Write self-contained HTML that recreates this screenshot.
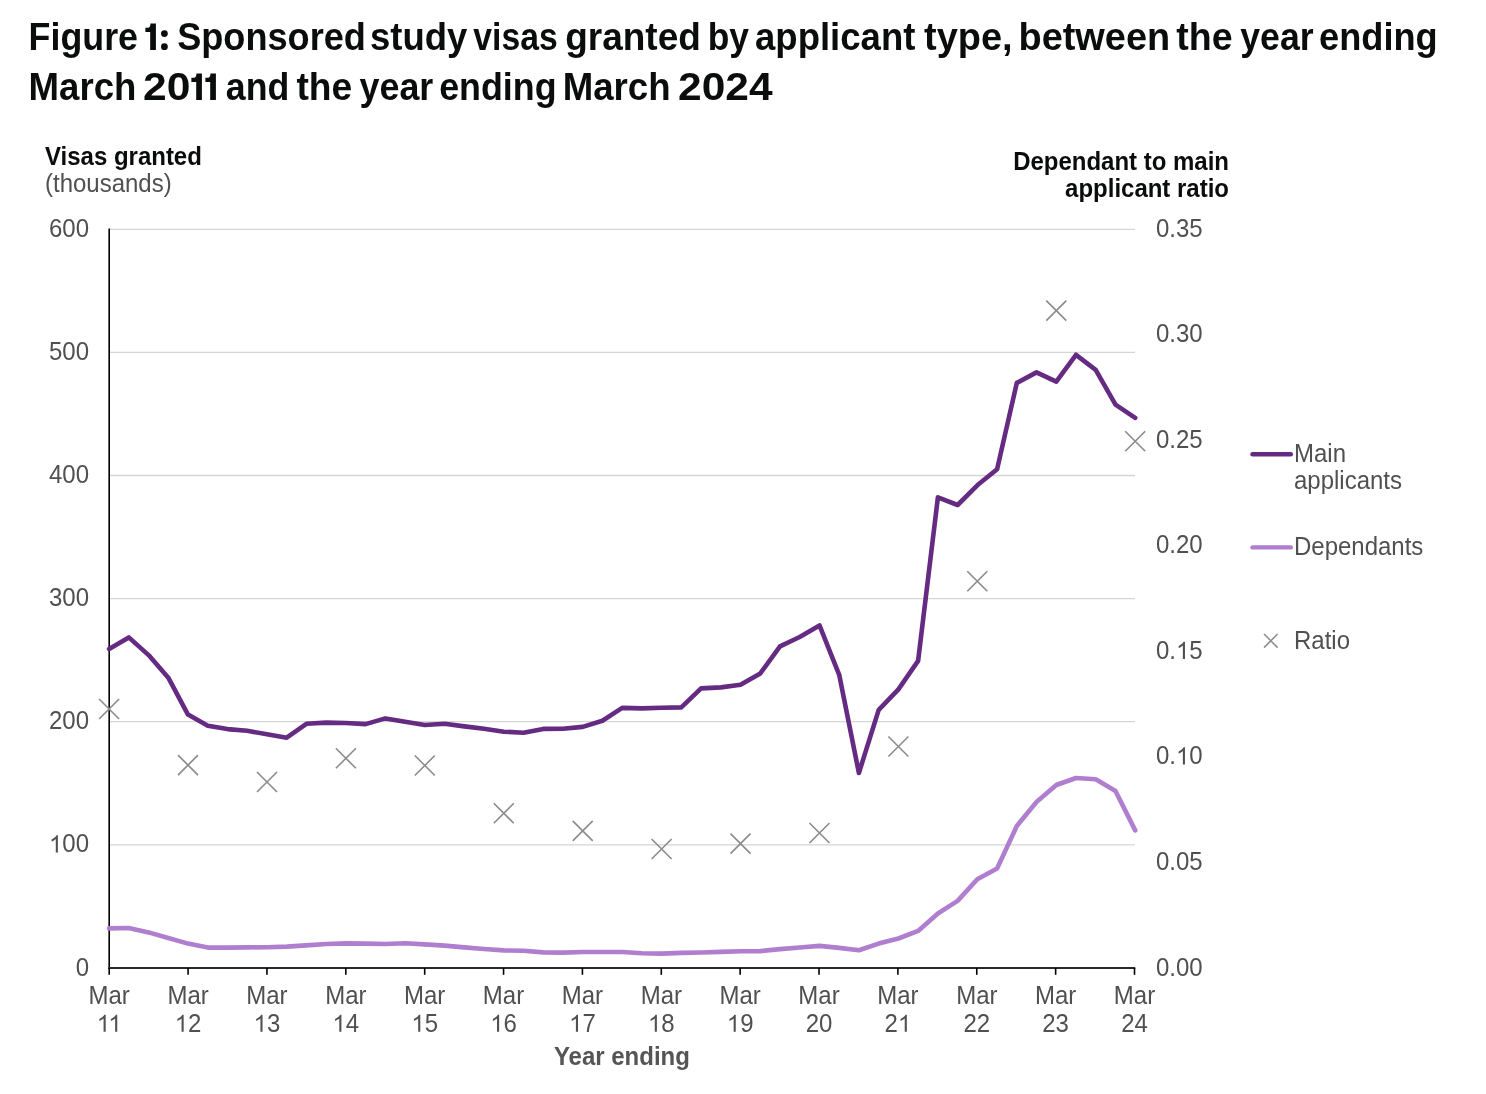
<!DOCTYPE html>
<html><head><meta charset="utf-8"><style>
html,body{margin:0;padding:0;background:#fff;}
body{width:1486px;height:1094px;overflow:hidden;position:relative;}
svg{position:absolute;left:0;top:0;will-change:transform;}
.t{font-family:"Liberation Sans",sans-serif;font-size:24px;fill:#505050;}
.b{font-family:"Liberation Sans",sans-serif;font-size:24px;font-weight:bold;}
.h{font-family:"Liberation Sans",sans-serif;font-size:38px;font-weight:bold;fill:#0b0c0c;}
</style></head><body>
<svg width="1486" height="1094" viewBox="0 0 1486 1094">
<defs><path id="one" fill="#505050" d="M763 0H583V-1098Q518 -1038 412.5 -979T223 -890V-1057Q373 -1124 485.5 -1221T645 -1409H763Z"/></defs>
<line x1="110" y1="844.80" x2="1135" y2="844.80" stroke="#d5d5d5" stroke-width="1.3"/>
<line x1="110" y1="721.70" x2="1135" y2="721.70" stroke="#d5d5d5" stroke-width="1.3"/>
<line x1="110" y1="598.60" x2="1135" y2="598.60" stroke="#d5d5d5" stroke-width="1.3"/>
<line x1="110" y1="475.50" x2="1135" y2="475.50" stroke="#d5d5d5" stroke-width="1.3"/>
<line x1="110" y1="352.40" x2="1135" y2="352.40" stroke="#d5d5d5" stroke-width="1.3"/>
<line x1="110" y1="229.30" x2="1135" y2="229.30" stroke="#d5d5d5" stroke-width="1.3"/>
<text transform="translate(75.65,975.60) scale(1,1.04)" class="t">0</text>
<use href="#one" transform="translate(48.96,852.43) scale(0.011719,0.012188)"/>
<text transform="translate(62.30,852.43) scale(1,1.04)" class="t">00</text>
<text transform="translate(48.96,729.27) scale(1,1.04)" class="t">200</text>
<text transform="translate(48.96,606.10) scale(1,1.04)" class="t">300</text>
<text transform="translate(48.96,482.93) scale(1,1.04)" class="t">400</text>
<text transform="translate(48.96,359.77) scale(1,1.04)" class="t">500</text>
<text transform="translate(48.96,236.60) scale(1,1.04)" class="t">600</text>
<text transform="translate(1156.00,975.60) scale(1,1.04)" class="t">0.00</text>
<text transform="translate(1156.00,870.03) scale(1,1.04)" class="t">0.05</text>
<text transform="translate(1156.00,764.46) scale(1,1.04)" class="t">0.</text>
<use href="#one" transform="translate(1176.02,764.46) scale(0.011719,0.012188)"/>
<text transform="translate(1189.36,764.46) scale(1,1.04)" class="t">0</text>
<text transform="translate(1156.00,658.89) scale(1,1.04)" class="t">0.</text>
<use href="#one" transform="translate(1176.02,658.89) scale(0.011719,0.012188)"/>
<text transform="translate(1189.36,658.89) scale(1,1.04)" class="t">5</text>
<text transform="translate(1156.00,553.31) scale(1,1.04)" class="t">0.20</text>
<text transform="translate(1156.00,447.74) scale(1,1.04)" class="t">0.25</text>
<text transform="translate(1156.00,342.17) scale(1,1.04)" class="t">0.30</text>
<text transform="translate(1156.00,236.60) scale(1,1.04)" class="t">0.35</text>
<line x1="109.2" y1="228.4" x2="109.2" y2="969" stroke="#000" stroke-width="1.6"/>
<line x1="108.4" y1="968" x2="1135.3" y2="968" stroke="#2a2a2a" stroke-width="2"/>
<line x1="109.20" y1="968" x2="109.20" y2="974.8" stroke="#000" stroke-width="1.6"/>
<text transform="translate(109.2,1003.8) scale(1,1.04)" text-anchor="middle" class="t">Mar</text>
<use href="#one" transform="translate(96.74,1031.80) scale(0.011719,0.012188)"/>
<use href="#one" transform="translate(108.31,1031.80) scale(0.011719,0.012188)"/>
<line x1="188.07" y1="968" x2="188.07" y2="974.8" stroke="#000" stroke-width="1.6"/>
<text transform="translate(188.1,1003.8) scale(1,1.04)" text-anchor="middle" class="t">Mar</text>
<use href="#one" transform="translate(174.72,1031.80) scale(0.011719,0.012188)"/>
<text transform="translate(188.07,1031.80) scale(1,1.04)" class="t">2</text>
<line x1="266.94" y1="968" x2="266.94" y2="974.8" stroke="#000" stroke-width="1.6"/>
<text transform="translate(266.9,1003.8) scale(1,1.04)" text-anchor="middle" class="t">Mar</text>
<use href="#one" transform="translate(253.59,1031.80) scale(0.011719,0.012188)"/>
<text transform="translate(266.94,1031.80) scale(1,1.04)" class="t">3</text>
<line x1="345.81" y1="968" x2="345.81" y2="974.8" stroke="#000" stroke-width="1.6"/>
<text transform="translate(345.8,1003.8) scale(1,1.04)" text-anchor="middle" class="t">Mar</text>
<use href="#one" transform="translate(332.46,1031.80) scale(0.011719,0.012188)"/>
<text transform="translate(345.81,1031.80) scale(1,1.04)" class="t">4</text>
<line x1="424.68" y1="968" x2="424.68" y2="974.8" stroke="#000" stroke-width="1.6"/>
<text transform="translate(424.7,1003.8) scale(1,1.04)" text-anchor="middle" class="t">Mar</text>
<use href="#one" transform="translate(411.33,1031.80) scale(0.011719,0.012188)"/>
<text transform="translate(424.68,1031.80) scale(1,1.04)" class="t">5</text>
<line x1="503.55" y1="968" x2="503.55" y2="974.8" stroke="#000" stroke-width="1.6"/>
<text transform="translate(503.5,1003.8) scale(1,1.04)" text-anchor="middle" class="t">Mar</text>
<use href="#one" transform="translate(490.20,1031.80) scale(0.011719,0.012188)"/>
<text transform="translate(503.55,1031.80) scale(1,1.04)" class="t">6</text>
<line x1="582.42" y1="968" x2="582.42" y2="974.8" stroke="#000" stroke-width="1.6"/>
<text transform="translate(582.4,1003.8) scale(1,1.04)" text-anchor="middle" class="t">Mar</text>
<use href="#one" transform="translate(569.07,1031.80) scale(0.011719,0.012188)"/>
<text transform="translate(582.42,1031.80) scale(1,1.04)" class="t">7</text>
<line x1="661.28" y1="968" x2="661.28" y2="974.8" stroke="#000" stroke-width="1.6"/>
<text transform="translate(661.3,1003.8) scale(1,1.04)" text-anchor="middle" class="t">Mar</text>
<use href="#one" transform="translate(647.94,1031.80) scale(0.011719,0.012188)"/>
<text transform="translate(661.28,1031.80) scale(1,1.04)" class="t">8</text>
<line x1="740.15" y1="968" x2="740.15" y2="974.8" stroke="#000" stroke-width="1.6"/>
<text transform="translate(740.2,1003.8) scale(1,1.04)" text-anchor="middle" class="t">Mar</text>
<use href="#one" transform="translate(726.81,1031.80) scale(0.011719,0.012188)"/>
<text transform="translate(740.15,1031.80) scale(1,1.04)" class="t">9</text>
<line x1="819.02" y1="968" x2="819.02" y2="974.8" stroke="#000" stroke-width="1.6"/>
<text transform="translate(819.0,1003.8) scale(1,1.04)" text-anchor="middle" class="t">Mar</text>
<text transform="translate(805.68,1031.80) scale(1,1.04)" class="t">20</text>
<line x1="897.89" y1="968" x2="897.89" y2="974.8" stroke="#000" stroke-width="1.6"/>
<text transform="translate(897.9,1003.8) scale(1,1.04)" text-anchor="middle" class="t">Mar</text>
<text transform="translate(884.54,1031.80) scale(1,1.04)" class="t">2</text>
<use href="#one" transform="translate(897.89,1031.80) scale(0.011719,0.012188)"/>
<line x1="976.76" y1="968" x2="976.76" y2="974.8" stroke="#000" stroke-width="1.6"/>
<text transform="translate(976.8,1003.8) scale(1,1.04)" text-anchor="middle" class="t">Mar</text>
<text transform="translate(963.41,1031.80) scale(1,1.04)" class="t">22</text>
<line x1="1055.63" y1="968" x2="1055.63" y2="974.8" stroke="#000" stroke-width="1.6"/>
<text transform="translate(1055.6,1003.8) scale(1,1.04)" text-anchor="middle" class="t">Mar</text>
<text transform="translate(1042.28,1031.80) scale(1,1.04)" class="t">23</text>
<line x1="1134.50" y1="968" x2="1134.50" y2="974.8" stroke="#000" stroke-width="1.6"/>
<text transform="translate(1134.5,1003.8) scale(1,1.04)" text-anchor="middle" class="t">Mar</text>
<text transform="translate(1121.15,1031.80) scale(1,1.04)" class="t">24</text>
<polyline points="109.1,928.4 128.8,928 148.6,932.4 168.3,938 188.0,943.6 207.8,947.6 227.5,947.6 247.2,947.4 267.0,947.2 286.7,946.6 306.4,945.4 326.2,944 345.9,943.4 365.6,943.6 385.4,944 405.1,943.2 424.8,944.4 444.6,945.6 464.3,947.4 484.0,949 503.8,950.4 523.5,950.8 543.2,952.4 563.0,952.6 582.7,952 602.4,952 622.2,952 641.9,953.2 661.6,953.6 681.3,952.9 701.1,952.5 720.8,951.9 740.5,951.3 760.3,951.1 780.0,949.1 799.7,947.5 819.5,945.9 839.2,947.9 858.9,950.2 878.7,943.6 898.4,938.5 918.1,930.9 937.9,913.5 957.6,900.9 977.3,879.3 997.1,868.5 1016.8,826 1036.5,802 1056.3,785 1076.0,778 1095.7,779.2 1115.5,791 1135.2,830.4" fill="none" stroke="#b07ecf" stroke-width="4.6" stroke-linejoin="round" stroke-linecap="round"/>
<polyline points="109.1,648.9 128.8,637.4 148.6,655.1 168.3,677.7 188.0,714.6 207.8,725.7 227.5,729.1 247.2,730.8 267.0,734.2 286.7,737.7 306.4,723.8 326.2,722.6 345.9,723.0 365.6,724.1 385.4,718.4 405.1,721.7 424.8,725.0 444.6,723.7 464.3,726.4 484.0,728.7 503.8,731.7 523.5,732.7 543.2,728.9 563.0,728.7 582.7,726.9 602.4,720.7 622.2,707.9 641.9,708.4 661.6,707.7 681.3,707.4 701.1,688.4 720.8,687.4 740.5,684.8 760.3,673.4 780.0,646.4 799.7,637.0 819.5,625.4 839.2,674.8 858.9,773.0 878.7,709.9 898.4,689.4 918.1,660.9 937.9,497.4 957.6,505.0 977.3,485.3 997.1,469.3 1016.8,382.9 1036.5,372.4 1056.3,381.7 1076.0,354.8 1095.7,369.9 1115.5,404.7 1135.2,417.9" fill="none" stroke="#652a82" stroke-width="4.6" stroke-linejoin="round" stroke-linecap="round"/>
<path d="M99.1,699.0L119.1,719.0M99.1,719.0L119.1,699.0" stroke="#898b8e" stroke-width="1.6"/>
<path d="M178.0,755.1L198.0,775.1M178.0,775.1L198.0,755.1" stroke="#898b8e" stroke-width="1.6"/>
<path d="M257.0,772.0L277.0,792.0M257.0,792.0L277.0,772.0" stroke="#898b8e" stroke-width="1.6"/>
<path d="M335.9,748.3L355.9,768.3M335.9,768.3L355.9,748.3" stroke="#898b8e" stroke-width="1.6"/>
<path d="M414.8,755.5L434.8,775.5M414.8,775.5L434.8,755.5" stroke="#898b8e" stroke-width="1.6"/>
<path d="M493.8,803.3L513.8,823.3M493.8,823.3L513.8,803.3" stroke="#898b8e" stroke-width="1.6"/>
<path d="M572.7,820.9L592.7,840.9M572.7,840.9L592.7,820.9" stroke="#898b8e" stroke-width="1.6"/>
<path d="M651.6,839.0L671.6,859.0M651.6,859.0L671.6,839.0" stroke="#898b8e" stroke-width="1.6"/>
<path d="M730.5,833.6L750.5,853.6M730.5,853.6L750.5,833.6" stroke="#898b8e" stroke-width="1.6"/>
<path d="M809.5,823.0L829.5,843.0M809.5,843.0L829.5,823.0" stroke="#898b8e" stroke-width="1.6"/>
<path d="M888.4,736.5L908.4,756.5M888.4,756.5L908.4,736.5" stroke="#898b8e" stroke-width="1.6"/>
<path d="M967.3,571.3L987.3,591.3M967.3,591.3L987.3,571.3" stroke="#898b8e" stroke-width="1.6"/>
<path d="M1046.3,300.6L1066.3,320.6M1046.3,320.6L1066.3,300.6" stroke="#898b8e" stroke-width="1.6"/>
<path d="M1125.2,431.3L1145.2,451.3M1125.2,451.3L1145.2,431.3" stroke="#898b8e" stroke-width="1.6"/>
<text transform="translate(45,164.9) scale(1,1.04)" class="b" fill="#0b0c0c">Visas granted</text>
<text transform="translate(45,191.8) scale(1,1.04)" class="t">(thousands)</text>
<text transform="translate(1229,169.9) scale(1,1.04)" text-anchor="end" class="b" fill="#0b0c0c">Dependant to main</text>
<text transform="translate(1229,197.0) scale(1,1.04)" text-anchor="end" class="b" fill="#0b0c0c">applicant ratio</text>
<text transform="translate(621.9,1064.5) scale(1,1.04)" text-anchor="middle" class="b" fill="#555">Year ending</text>
<line x1="1252.5" y1="454.3" x2="1290.8" y2="454.3" stroke="#652a82" stroke-width="4.4" stroke-linecap="round"/>
<text transform="translate(1294,462.3) scale(1,1.04)" class="t">Main</text>
<text transform="translate(1294,488.9) scale(1,1.04)" class="t">applicants</text>
<line x1="1252.5" y1="547.4" x2="1290.8" y2="547.4" stroke="#b07ecf" stroke-width="4.4" stroke-linecap="round"/>
<text transform="translate(1294,555) scale(1,1.04)" class="t">Dependants</text>
<path d="M1264,634L1277.6,647.6M1264,647.6L1277.6,634" stroke="#898b8e" stroke-width="1.5"/>
<text transform="translate(1294,648.8) scale(1,1.04)" class="t">Ratio</text>
<text class="h" transform="translate(28.62,49.9) scale(0.9425,1)">Figure</text>
<text class="h" transform="translate(177.15,49.9) scale(0.9513,1)">Sponsored</text>
<text class="h" transform="translate(370.08,49.9) scale(0.9596,1)">study</text>
<text class="h" transform="translate(473.30,49.9) scale(0.8872,1)">visas</text>
<text class="h" transform="translate(565.23,49.9) scale(0.9735,1)">granted</text>
<text class="h" transform="translate(707.64,49.9) scale(0.9310,1)">by</text>
<text class="h" transform="translate(755.04,49.9) scale(0.9612,1)">applicant</text>
<text class="h" transform="translate(924.10,49.9) scale(0.9988,1)">type,</text>
<text class="h" transform="translate(1018.51,49.9) scale(0.9973,1)">between</text>
<text class="h" transform="translate(1176.30,49.9) scale(0.9875,1)">the</text>
<text class="h" transform="translate(1240.30,49.9) scale(0.9377,1)">year</text>
<text class="h" transform="translate(1319.05,49.9) scale(0.9529,1)">ending</text>
<text class="h" transform="translate(28.57,99.9) scale(0.9630,1)">March</text>
<text class="h" transform="translate(142.98,99.9) scale(1.1200,1)">20</text>
<text class="h" transform="translate(225.76,99.9) scale(0.9406,1)">and</text>
<text class="h" transform="translate(296.40,99.9) scale(0.9786,1)">the</text>
<text class="h" transform="translate(359.50,99.9) scale(0.9442,1)">year</text>
<text class="h" transform="translate(439.16,99.9) scale(0.9430,1)">ending</text>
<text class="h" transform="translate(562.67,99.9) scale(0.9639,1)">March</text>
<text class="h" transform="translate(678.08,99.9) scale(1.1181,1)">2024</text>
<path fill="#0b0c0c" d="M150.20,49.9 V32.00 H145.40 V27.70 H148.40 Q150.30,27.30 150.50,23.60 H155.90 V49.9 Z"/>
<circle cx="164.4" cy="33.6" r="3.4" fill="#0b0c0c"/><circle cx="164.4" cy="46.7" r="3.4" fill="#0b0c0c"/>
<path fill="#0b0c0c" d="M196.20,99.9 V82.00 H191.40 V77.70 H194.40 Q196.30,77.30 196.50,73.60 H201.90 V99.9 Z"/>
<path fill="#0b0c0c" d="M210.20,99.9 V82.00 H205.40 V77.70 H208.40 Q210.30,77.30 210.50,73.60 H215.90 V99.9 Z"/>
</svg>
</body></html>
